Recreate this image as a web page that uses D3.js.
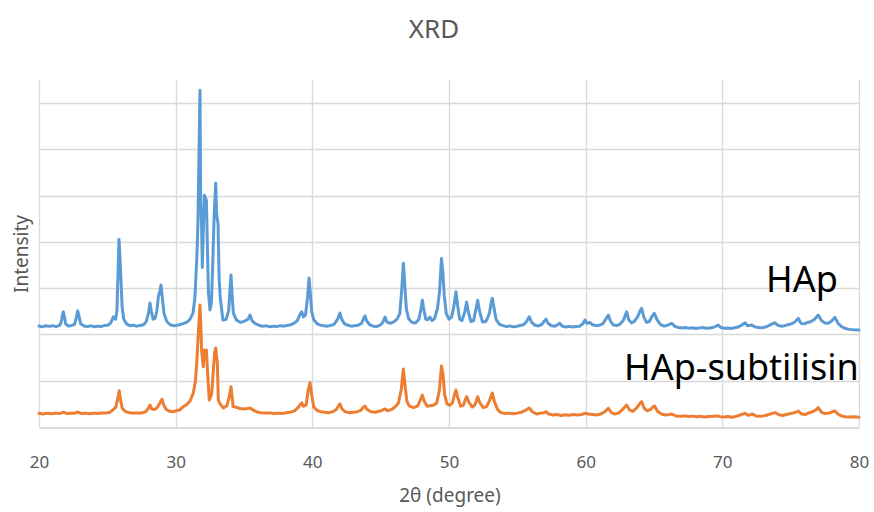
<!DOCTYPE html>
<html>
<head>
<meta charset="utf-8">
<script src="https://cdn.jsdelivr.net/npm/d3@7"></script>
<style>
  html, body { margin: 0; padding: 0; background: #fff; }
  svg { display: block; }
  text { font-family: "Noto Sans", "Open Sans", sans-serif; }
</style>
</head>
<body>
<svg id="chart" width="874" height="512"></svg>
<script>
// ---- data ----
const chartTitle = "XRD";
const xTitle = "2θ (degree)";
const yTitle = "Intensity";
const seriesNames = ["HAp", "HAp-subtilisin"];
const xTicks = [20, 30, 40, 50, 60, 70, 80];
const yGrid = [0, 1000, 2000, 3000, 4000, 5000, 6000, 7000];

// HAp pattern: [2θ, intensity]
const hapPoints = [
[20.00,2180],[20.25,2165],[20.50,2190],[20.75,2175],[21.00,2190],[21.25,2170],[21.50,2195],[21.62,2260],[21.70,2400],[21.78,2490],
[21.86,2380],[21.95,2230],[22.15,2180],[22.40,2195],[22.60,2220],[22.72,2350],[22.83,2510],[22.92,2400],[23.05,2230],[23.30,2185],
[23.55,2170],[23.80,2190],[24.05,2165],[24.30,2180],[24.55,2170],[24.80,2195],[25.05,2200],[25.25,2250],[25.44,2380],[25.60,2330],
[25.70,2500],[25.78,3300],[25.85,4055],[25.92,3700],[26.00,3175],[26.08,2600],[26.20,2330],[26.40,2230],[26.65,2190],[26.90,2200],
[27.15,2180],[27.40,2195],[27.65,2210],[27.85,2280],[28.00,2450],[28.12,2680],[28.22,2500],[28.35,2330],[28.50,2350],[28.62,2500],
[28.73,2815],[28.85,2950],[28.93,3067],[29.02,2800],[29.15,2450],[29.35,2280],[29.60,2210],[29.85,2190],[30.10,2200],[30.35,2215],
[30.60,2240],[30.85,2270],[31.05,2330],[31.27,2462],[31.41,2808],[31.54,3607],[31.63,4400],[31.70,5800],[31.78,7280],[31.83,4900],
[31.90,4300],[31.95,3450],[32.03,4300],[32.10,5010],[32.18,4950],[32.25,4900],[32.32,3900],[32.40,2900],[32.51,2530],[32.62,2700],
[32.72,3600],[32.82,4600],[32.93,5270],[33.00,4600],[33.10,4400],[33.18,3200],[33.26,2800],[33.46,2310],[33.70,2330],[33.88,2520],
[33.98,3000],[34.05,3283],[34.12,2900],[34.22,2460],[34.45,2310],[34.75,2260],[35.05,2290],[35.30,2330],[35.44,2420],[35.58,2300],
[35.85,2230],[36.10,2200],[36.35,2175],[36.60,2190],[36.90,2165],[37.15,2180],[37.40,2170],[37.65,2190],[37.90,2180],[38.15,2195],
[38.40,2210],[38.65,2240],[38.90,2300],[39.08,2420],[39.22,2490],[39.35,2380],[39.50,2420],[39.65,2800],[39.76,3218],[39.85,2900],
[39.95,2500],[40.10,2320],[40.35,2230],[40.60,2200],[40.85,2190],[41.10,2180],[41.35,2195],[41.60,2220],[41.85,2330],[42.02,2462],
[42.15,2330],[42.35,2230],[42.60,2200],[42.85,2180],[43.10,2190],[43.35,2200],[43.60,2240],[43.75,2340],[43.85,2400],[43.98,2290],
[44.20,2210],[44.45,2180],[44.70,2170],[44.95,2200],[45.15,2260],[45.32,2375],[45.45,2270],[45.70,2240],[45.95,2270],[46.20,2330],
[46.40,2450],[46.55,3000],[46.66,3540],[46.76,3100],[46.88,2550],[47.05,2340],[47.30,2260],[47.55,2250],[47.80,2330],[47.95,2550],
[48.05,2743],[48.15,2550],[48.30,2330],[48.45,2320],[48.60,2375],[48.75,2300],[48.95,2350],[49.15,2550],[49.30,2900],[49.45,3640],
[49.55,3350],[49.65,2850],[49.80,2450],[50.00,2330],[50.20,2380],[50.38,2650],[50.51,2925],[50.62,2650],[50.78,2330],[50.95,2300],
[51.15,2480],[51.29,2700],[51.42,2480],[51.60,2280],[51.80,2300],[51.97,2550],[52.10,2740],[52.22,2520],[52.45,2270],[52.70,2280],
[52.95,2450],[53.10,2700],[53.17,2780],[53.28,2600],[53.45,2320],[53.70,2220],[53.95,2190],[54.20,2170],[54.45,2185],[54.70,2165],
[54.95,2175],[55.20,2195],[55.45,2210],[55.65,2270],[55.87,2380],[56.05,2260],[56.30,2200],[56.55,2185],[56.80,2220],[56.95,2280],
[57.10,2330],[57.25,2240],[57.50,2190],[57.75,2180],[57.95,2210],[58.10,2240],[58.30,2180],[58.55,2160],[58.80,2175],[59.05,2160],
[59.30,2170],[59.55,2180],[59.80,2230],[59.95,2311],[60.10,2240],[60.30,2260],[60.50,2210],[60.75,2190],[61.00,2200],[61.25,2230],
[61.45,2320],[61.66,2419],[61.80,2300],[62.00,2210],[62.25,2190],[62.50,2220],[62.75,2300],[63.00,2490],[63.15,2320],[63.35,2250],
[63.55,2280],[63.80,2380],[64.00,2520],[64.10,2563],[64.25,2380],[64.45,2260],[64.65,2280],[64.85,2390],[65.02,2455],[65.20,2330],
[65.45,2220],[65.75,2180],[66.00,2200],[66.30,2240],[66.55,2170],[66.80,2150],[67.05,2140],[67.30,2150],[67.55,2135],[67.80,2145],
[68.05,2130],[68.30,2140],[68.55,2150],[68.80,2135],[69.05,2140],[69.30,2150],[69.55,2180],[69.70,2203],[69.90,2150],[70.15,2135],
[70.40,2140],[70.65,2130],[70.90,2145],[71.15,2160],[71.40,2200],[71.66,2253],[71.85,2190],[72.15,2203],[72.40,2160],[72.65,2150],
[72.90,2145],[73.15,2160],[73.40,2190],[73.65,2230],[73.85,2253],[74.05,2200],[74.30,2180],[74.55,2190],[74.80,2210],[75.05,2230],
[75.30,2270],[75.56,2347],[75.75,2240],[76.00,2230],[76.25,2260],[76.50,2280],[76.75,2330],[77.02,2419],[77.25,2300],[77.50,2250],
[77.75,2240],[78.00,2290],[78.24,2370],[78.45,2250],[78.70,2170],[79.00,2130],[79.30,2110],[79.60,2100],[80.00,2095]
];

// HAp-subtilisin pattern: [2θ, intensity]
const subPoints = [
[20.00,295],[20.30,280],[20.60,300],[20.90,285],[21.20,300],[21.50,290],[21.78,320],[22.05,290],[22.35,300],[22.60,295],
[22.83,325],[23.10,290],[23.40,300],[23.70,285],[24.00,300],[24.30,290],[24.60,305],[24.90,300],[25.20,320],[25.45,380],
[25.62,430],[25.75,600],[25.87,785],[25.98,560],[26.10,400],[26.35,330],[26.60,310],[26.90,300],[27.20,305],[27.50,300],
[27.80,330],[28.00,400],[28.12,475],[28.25,390],[28.45,380],[28.65,420],[28.85,520],[29.00,600],[29.12,480],[29.30,380],
[29.55,340],[29.80,330],[30.05,350],[30.30,370],[30.56,440],[30.80,480],[31.05,560],[31.29,734],[31.45,1000],[31.54,1382],
[31.65,2000],[31.78,2635],[31.85,2100],[31.90,1663],[32.02,1300],[32.10,1663],[32.18,1650],[32.25,1663],[32.35,1100],[32.46,583],
[32.56,650],[32.64,734],[32.75,1200],[32.85,1600],[32.93,1706],[33.05,1382],[33.12,583],[33.25,500],[33.49,410],[33.75,460],
[33.92,650],[34.05,870],[34.15,600],[34.20,440],[34.40,430],[34.70,400],[35.00,390],[35.25,400],[35.44,410],[35.65,370],
[35.90,330],[36.20,310],[36.50,300],[36.90,302],[37.20,290],[37.50,300],[37.80,290],[38.10,310],[38.40,320],[38.70,350],
[38.95,420],[39.10,480],[39.22,520],[39.35,450],[39.55,480],[39.70,800],[39.83,960],[39.95,700],[40.10,430],[40.35,360],
[40.60,330],[40.90,320],[41.20,310],[41.50,330],[41.75,380],[41.90,450],[42.02,500],[42.15,400],[42.40,330],[42.70,310],
[43.00,320],[43.30,330],[43.55,360],[43.70,420],[43.85,454],[44.00,380],[44.30,330],[44.60,320],[44.90,340],[45.10,360],
[45.32,390],[45.50,350],[45.80,380],[46.05,430],[46.30,520],[46.50,800],[46.66,1253],[46.78,900],[46.92,560],[47.10,450],
[47.40,420],[47.70,450],[47.90,580],[48.05,690],[48.18,560],[48.40,450],[48.60,460],[48.85,470],[49.10,520],[49.30,800],
[49.45,1320],[49.56,1150],[49.68,700],[49.85,500],[50.05,470],[50.25,520],[50.40,700],[50.51,800],[50.62,660],[50.85,450],
[51.05,470],[51.18,580],[51.29,655],[51.45,540],[51.70,430],[51.90,480],[52.10,655],[52.25,530],[52.50,420],[52.75,440],
[52.95,560],[53.17,734],[53.32,550],[53.55,380],[53.80,310],[54.10,290],[54.40,300],[54.70,285],[55.00,300],[55.30,320],
[55.60,360],[55.87,410],[56.10,330],[56.40,280],[56.70,300],[56.95,310],[57.10,330],[57.30,280],[57.60,260],[57.90,270],
[58.20,250],[58.50,265],[58.80,255],[59.10,270],[59.40,260],[59.70,270],[59.95,296],[60.20,280],[60.50,270],[60.80,260],
[61.10,280],[61.40,330],[61.66,404],[61.85,320],[62.10,280],[62.40,300],[62.70,380],[63.00,475],[63.20,370],[63.45,340],
[63.75,420],[64.00,520],[64.10,547],[64.25,420],[64.50,350],[64.75,380],[64.95,440],[65.05,454],[65.25,340],[65.55,280],
[65.85,260],[66.10,270],[66.30,281],[66.60,240],[66.90,230],[67.20,240],[67.50,225],[67.80,235],[68.10,220],[68.40,230],
[68.70,215],[69.00,225],[69.30,230],[69.60,240],[69.85,222],[70.10,215],[70.40,225],[70.70,210],[71.00,230],[71.30,260],
[71.66,296],[71.90,250],[72.20,280],[72.45,240],[72.70,230],[73.00,240],[73.30,260],[73.60,290],[73.85,310],[74.10,270],
[74.40,250],[74.70,270],[75.00,290],[75.30,310],[75.56,346],[75.80,280],[76.05,270],[76.30,300],[76.60,330],[76.85,370],
[77.02,417],[77.25,320],[77.50,290],[77.80,300],[78.05,330],[78.24,346],[78.45,280],[78.70,240],[79.00,222],[79.30,215],
[79.60,220],[80.00,210]
];

const seriesColors = ["#5b9bd5", "#ed7d31"];

// ---- drawing ----
const svg = d3.select("#chart");
const plot = { left: 39, right: 859, top: 80, bottom: 427 };

const x = d3.scaleLinear().domain([20, 80]).range([plot.left, plot.right]);
const y = d3.scaleLinear().domain([0, 7500]).range([plot.bottom, plot.top]);

// horizontal gridlines
svg.append("g")
  .selectAll("line")
  .data(yGrid.filter(d => d > 0))
  .join("line")
  .attr("x1", plot.left).attr("x2", plot.right)
  .attr("y1", d => Math.round(y(d)) + 0.5).attr("y2", d => Math.round(y(d)) + 0.5)
  .attr("stroke", "#d9d9d9").attr("stroke-width", 1.3);

// vertical gridlines
svg.append("g")
  .selectAll("line")
  .data(xTicks)
  .join("line")
  .attr("x1", d => Math.round(x(d)) + 0.5).attr("x2", d => Math.round(x(d)) + 0.5)
  .attr("y1", plot.top).attr("y2", plot.bottom)
  .attr("stroke", "#d9d9d9").attr("stroke-width", 1.3);

// x axis
const xAxis = svg.append("g")
  .attr("transform", `translate(0,${Math.round(y(0)) + 0.5})`)
  .call(d3.axisBottom(x).tickValues(xTicks).tickSize(0).tickPadding(28).tickFormat(d3.format("d")));
xAxis.select(".domain").attr("stroke", "#d0d0d0").attr("stroke-width", 1.6);
xAxis.selectAll("text")
  .attr("fill", "#595959")
  .style("font-size", "17px")
  .style("font-family", "'Noto Sans', sans-serif");

// lines
const line = d3.line().x(d => x(d[0])).y(d => y(d[1]));
[hapPoints, subPoints].forEach((pts, i) => {
  svg.append("path")
    .datum(pts)
    .attr("d", line)
    .attr("fill", "none")
    .attr("stroke", seriesColors[i])
    .attr("stroke-width", 3)
    .attr("stroke-linejoin", "round")
    .attr("stroke-linecap", "round");
});

// series labels
svg.append("text").attr("x", 766).attr("y", 292)
  .style("font-size", "36px").attr("fill", "#000").text(seriesNames[0]);
svg.append("text").attr("x", 624).attr("y", 380)
  .style("font-size", "36px").attr("fill", "#000").text(seriesNames[1]);

// titles
svg.append("text").attr("x", 434).attr("y", 38).attr("text-anchor", "middle")
  .style("font-size", "26px").attr("fill", "#595959").text(chartTitle);
svg.append("text").attr("x", 450).attr("y", 502).attr("text-anchor", "middle")
  .style("font-size", "19px").attr("fill", "#595959").text(xTitle);
svg.append("text")
  .attr("transform", `translate(28,254) rotate(-90)`)
  .attr("text-anchor", "middle")
  .style("font-size", "19px").attr("fill", "#595959").text(yTitle);
</script>
</body>
</html>
